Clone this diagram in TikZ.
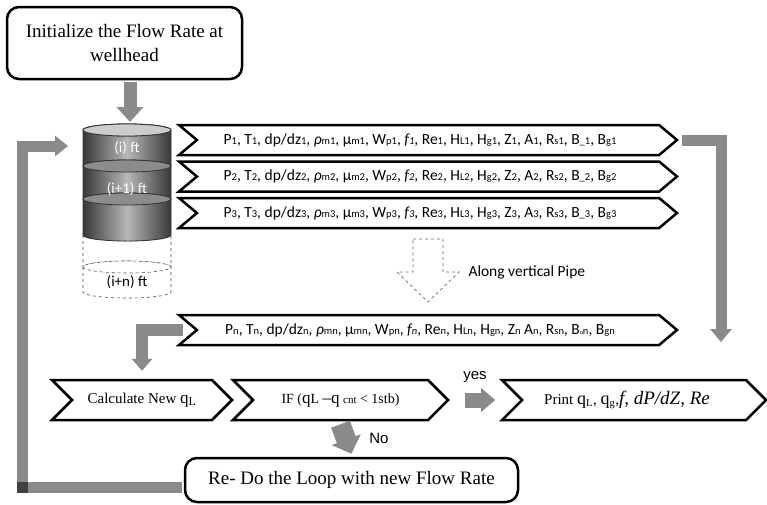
\documentclass[tikz,border=0pt]{standalone}
\usepackage{fontspec}
\setmainfont{Liberation Serif}
\setsansfont{Carlito}
\newfontfamily\labelfont{Liberation Sans}
\usetikzlibrary{positioning,shapes.symbols,arrows.meta}

\definecolor{flowgray}{HTML}{8A8A8A}
% small index letters sitting on the baseline
\newcommand{\lo}[1]{{\fontsize{10.5}{11}\selectfont #1}}
\newcommand{\tinyo}{\raisebox{-0.5pt}{\fontsize{6}{6}\selectfont o}}

\begin{document}
\begin{tikzpicture}[x=1pt, y=-1pt, node distance=36.5pt,
    roundbox/.style={draw, line width=2.5pt, rounded corners=12pt, align=center,
        font=\fontsize{19}{24}\selectfont},
    chevron/.style={signal, draw, line width=2.5pt, signal from=west, signal to=east,
        signal pointer angle=80, inner sep=0pt},
    datarow/.style={chevron, minimum width=498pt, minimum height=30pt,
        font=\sffamily\fontsize{15.5}{17}\selectfont},
    grayarrow/.style={draw=flowgray, line width=11pt, -{Triangle[width=21pt, length=13pt]}},
    segment/.style={draw=black!80, line width=0.8pt, left color=black!78, right color=black!78, middle color=black!28},
    ghost/.style={draw=black!70, dashed, line width=0.6pt, fill=white},
    seglabel/.style={font=\sffamily\fontsize{15}{16}\selectfont},
]
\useasboundingbox (0,0) rectangle (767,504);

% empty pipe sections further down
\foreach \ya/\yb in {235/267, 267/292} {
    \draw[ghost] (83,\ya) -- (83,\yb) arc[start angle=180, end angle=360, x radius=44pt, y radius=6pt]
        -- (171,\ya) arc[start angle=0, end angle=180, x radius=44pt, y radius=6pt] -- cycle;
    \draw[ghost] (127,\ya) ellipse[x radius=44pt, y radius=6pt];
}
% computed pipe sections
\foreach \ya/\yb in {130/166, 166/199, 199/235} {
    \draw[segment] (83,\ya) -- (83,\yb) arc[start angle=180, end angle=360, x radius=44pt, y radius=6pt]
        -- (171,\ya) arc[start angle=0, end angle=180, x radius=44pt, y radius=6pt] -- cycle;
    \draw[draw=black!80, line width=0.8pt, fill=black!45] (127,\ya) ellipse[x radius=44pt, y radius=6pt];
}
\draw[draw=black!80, line width=0.8pt, fill=black!20] (127,130) ellipse[x radius=44pt, y radius=6pt];

\node[seglabel, text=white] (seg1) at (127,148) {(i) ft};
\node[seglabel, text=white] (seg2) at (127,189) {(i+1) ft};
\node[seglabel] (segn) at (127,282) {(i+n) ft};

\node[roundbox, minimum width=235pt, minimum height=72pt] (init) at (124.5,43) {Initialize the Flow Rate at\\wellhead};

\node[datarow] (r1) at (428,140) {P\lo{1}, T\lo{1}, dp/dz\lo{1}, \textit{ρ}\lo{m1}, µ\lo{m1}, W\lo{p1}, \textit{f\lo{1}}, Re\lo{1}, H\lo{L1}, H\lo{g1}, Z\lo{1}, A\lo{1}, R\lo{s1}, B\lo{\_1}, B\lo{g1}\hspace*{16pt}};
\node[datarow, below of=r1] (r2) {P\lo{2}, T\lo{2}, dp/dz\lo{2}, \textit{ρ}\lo{m2}, µ\lo{m2}, W\lo{p2}, \textit{f\lo{2}}, Re\lo{2}, H\lo{L2}, H\lo{g2}, Z\lo{2}, A\lo{2}, R\lo{s2}, B\lo{\_2}, B\lo{g2}\hspace*{16pt}};
\node[datarow, below of=r2] (r3) {P\lo{3}, T\lo{3}, dp/dz\lo{3}, \textit{ρ}\lo{m3}, µ\lo{m3}, W\lo{p3}, \textit{f\lo{3}}, Re\lo{3}, H\lo{L3}, H\lo{g3}, Z\lo{3}, A\lo{3}, R\lo{s3}, B\lo{\_3}, B\lo{g3}\hspace*{16pt}};
\node[datarow] (rn) at (428,330) {P\lo{n}, T\lo{n}, dp/dz\lo{n}, \textit{ρ}\lo{mn}, µ\lo{mn}, W\lo{pn}, \textit{f\lo{n}}, Re\lo{n}, H\lo{Ln}, H\lo{gn}, Z\lo{n} A\lo{n}, R\lo{sn}, B\tinyo\lo{n}, B\lo{gn}\hspace*{16pt}};

% hollow arrow down the pipe
\draw[draw=black!60, dashed, line width=0.7pt] (413,239) -- (443,239) -- (443,272) -- (459,272)
    -- (428,302) -- (397,272) -- (413,272) -- cycle;
\node[font=\sffamily\fontsize{15.5}{17}\selectfont, anchor=west] (along) at (465,272) {Along vertical Pipe};

\node[chevron, minimum width=180pt, minimum height=40pt, signal pointer angle=90,
    font=\fontsize{15}{17}\selectfont] (calc) at (142,400) {Calculate New {\fontsize{17}{18}\selectfont q\textsubscript{L}}};
\node[chevron, minimum width=215pt, minimum height=40pt, signal pointer angle=90,
    font=\fontsize{14}{16}\selectfont] (ifq) at (340.5,400) {IF ({\fontsize{17}{18}\selectfont q}L {\fontsize{17}{18}\selectfont –q} {\fontsize{11}{12}\selectfont cnt} < 1stb)};
\node[chevron, minimum width=264pt, minimum height=40pt, signal pointer angle=90,
    font=\fontsize{15}{17}\selectfont] (prt) at (634,400) {Print {\fontsize{18}{19}\selectfont q}\textsubscript{L}, {\fontsize{18}{19}\selectfont q}\textsubscript{g},{\fontsize{19}{20}\selectfont\itshape f, dP/dZ, Re}\hspace*{14pt}};

\node[roundbox, minimum width=333pt, minimum height=44pt] (redo) at (351.5,480) {Re- Do the Loop with new Flow Rate};

% gray connectors
\coordinate (cyltop) at (130,122);
\coordinate (rightdrop) at (721,342);
\coordinate (loopcorner) at (22,487);
\coordinate (loopin) at (68,146);
\draw[grayarrow, line width=13pt, -{Triangle[width=26pt, length=15pt]}] ([yshift=-2pt]init.south -| cyltop) -- (cyltop);
\draw[grayarrow] ([xshift=3pt]r1.east) -| (rightdrop);
\draw[grayarrow, line width=12pt, -{Triangle[width=20pt, length=12pt]}] ([xshift=-12pt]rn.west) -| ([yshift=8pt]calc.north);
\draw[grayarrow, -{Triangle[width=20pt, length=13pt]}] ([xshift=-1.5pt]redo.west |- loopcorner) -- (loopcorner) |- (loopin);
\fill[black!75] (16.5,481.5) rectangle (27.5,492.5);
\draw[grayarrow, line width=15pt, -{Triangle[width=23pt, length=14pt]}] ([xshift=15pt]ifq.east) -- ([xshift=-25pt]prt.west);
\draw[grayarrow, line width=20pt, -{Triangle[width=30pt, length=15pt]}] ([yshift=-3pt]ifq.south) -- ([yshift=3pt]redo.north);

\node[font=\labelfont\fontsize{15}{16}\selectfont] (yes) at (475,377) {yes};
\node[font=\labelfont\fontsize{15}{16}\selectfont] (no) at (379,438) {No};
\end{tikzpicture}
\end{document}
